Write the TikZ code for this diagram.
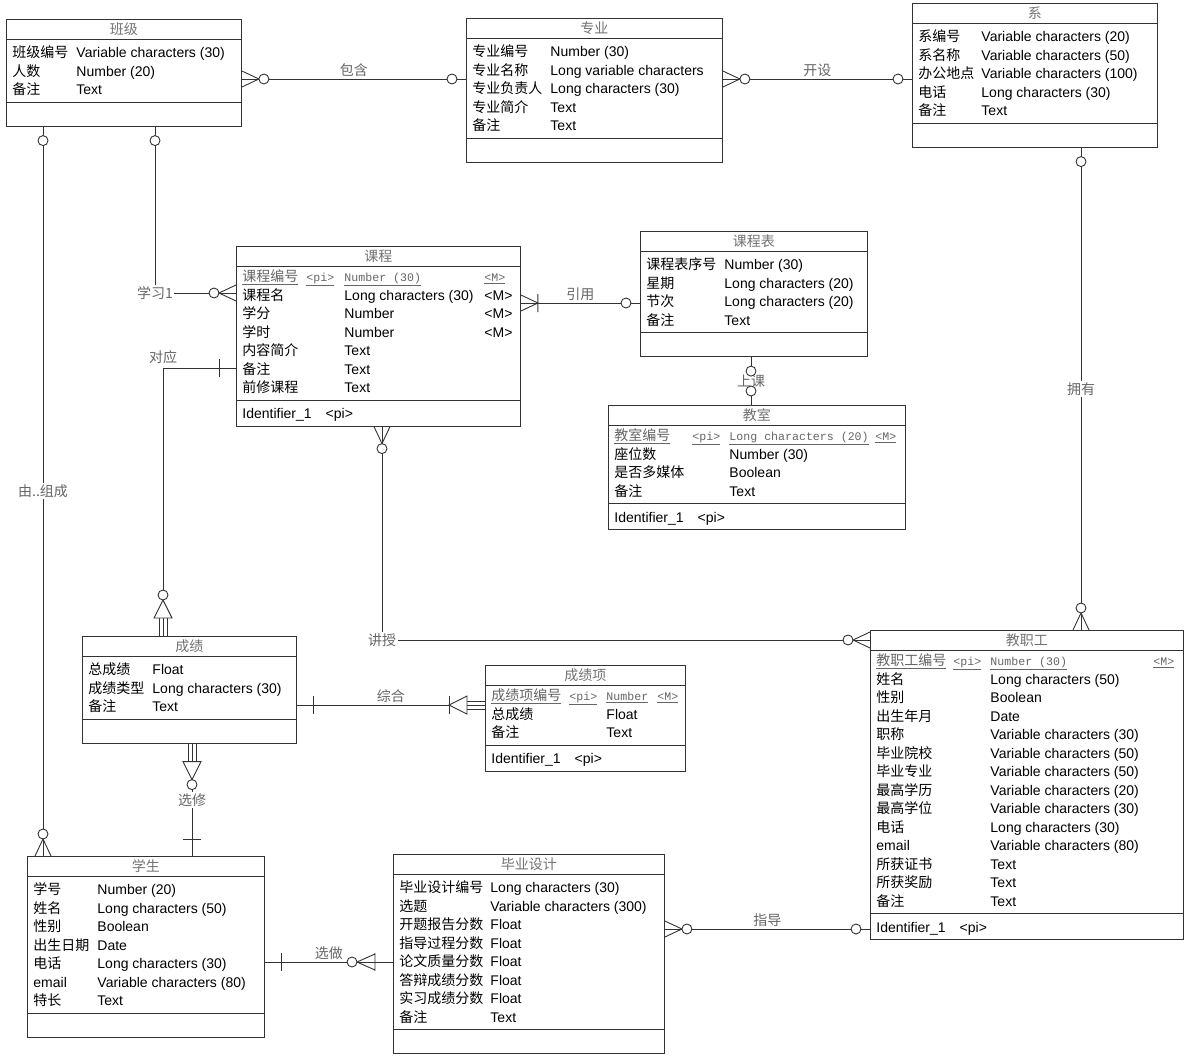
\documentclass[tikz,border=0pt]{standalone}
\usepackage{fontspec}
\setmainfont{Noto Sans CJK SC}
\newfontfamily\latf{Liberation Sans}
\newfontfamily\monof{Liberation Mono}
\usepackage{array}
\usetikzlibrary{shapes.multipart}

\newcolumntype{N}[1]{@{}w{l}{#1}}
\newcolumntype{T}[1]{@{}>{\latf}w{l}{#1}}
\newcommand\ttl[1]{\raisebox{0pt}[14.7pt][4.3pt]{\color{black!55}#1}}
\newcommand\attrs[3][5pt]{\raisebox{0pt}[\dimexpr\height+#1\relax][\dimexpr\depth+1.5pt\relax]{\begin{tabular}{#2}#3\end{tabular}}}
\newcommand\blankpart{\rule{0pt}{23pt}}
\newcommand\idpart{\raisebox{0pt}[18pt][7pt]{\latf Identifier\_1\hspace{14pt}<pi>}}
\newcommand\pkn[1]{\raisebox{0pt}[\height][0pt]{\color{black!60}\underline{#1}}}
\newcommand\pkm[1]{{\monof\fontsize{11.6}{18.5}\selectfont\raisebox{0pt}[\height][0pt]{\color{black!60}\underline{#1}}}}
\newcommand\pkid[2]{\makebox[#1][l]{\pkn{#2}}\pkm{<pi>}}

\tikzset{
  ent/.style={rectangle split, rectangle split parts=3, rectangle split part align={center,left,left},
    draw=black!80, line width=0.9pt, inner xsep=6pt, inner ysep=0pt, anchor=north west,
    fill=white, font=\fontsize{14}{18.5}\selectfont},
  conn/.style={draw=black!80, line width=0.9pt},
  lbl/.style={font=\fontsize{14}{16}\selectfont, text=black!60, inner sep=1.5pt},
  pics/crowO/.style={code={\draw[conn] (0,8) -- (17,0) -- (0,-8); \draw[conn, fill=white] (22,0) circle[radius=5pt];}},
  pics/crowB/.style={code={\draw[conn] (0,8) -- (17,0) -- (0,-8) (17,-9) -- (17,9);}},
  pics/ringO/.style={code={\draw[conn, fill=white] (14,0) circle[radius=5pt];}},
  pics/barI/.style={code={\draw[conn] (17,-9) -- (17,9);}},
  pics/depO/.style={code={\draw[conn] (0,-4) -- (18,-4) (0,0) -- (18,0) (0,4) -- (18,4);
    \draw[conn, fill=white] (18,-9) -- (18,9) -- (36,0) -- cycle;
    \draw[conn, fill=white] (41,0) circle[radius=5pt];}},
  pics/depB/.style={code={\draw[conn] (0,-4) -- (18,-4) (0,0) -- (18,0) (0,4) -- (18,4);
    \draw[conn, fill=white] (18,-9) -- (18,9) -- (36,0) -- cycle;
    \draw[conn] (36,-9) -- (36,9);}},
  pics/barCrowO/.style={code={\draw[conn] (18,-9) -- (18,9) (18,8) -- (36,0) -- (18,-8);
    \draw[conn, fill=white] (41,0) circle[radius=5pt];}},
}

\begin{document}
\begin{tikzpicture}[x=1pt, y=-1pt]
\fill[white] (0,0) rectangle (1189,1057);
\useasboundingbox (0,0) rectangle (1189,1057);

% entities
\node[ent] (bj) at (6,19) {\ttl{班级}
  \nodepart{two}\attrs{N{64pt}T{159pt}@{}}{班级编号 & Variable characters (30)\\ 人数 & Number (20)\\ 备注 & Text}
  \nodepart{three}\blankpart};
\node[ent] (zy) at (466,18) {\ttl{专业}
  \nodepart{two}\attrs{N{78pt}T{166pt}@{}}{专业编号 & Number (30)\\ 专业名称 & Long variable characters\\ 专业负责人 & Long characters (30)\\ 专业简介 & Text\\ 备注 & Text}
  \nodepart{three}\blankpart};
\node[ent] (xi) at (912,3) {\ttl{系}
  \nodepart{two}\attrs{N{63pt}T{170pt}@{}}{系编号 & Variable characters (20)\\ 系名称 & Variable characters (50)\\ 办公地点 & Variable characters (100)\\ 电话 & Long characters (30)\\ 备注 & Text}
  \nodepart{three}\blankpart};
\node[ent] (kc) at (236,246) {\ttl{课程}
  \nodepart{two}\attrs[2pt]{N{102pt}T{140pt}T{30pt}@{}}{\pkid{64pt}{课程编号} & \pkm{Number (30)} & \pkm{<M>}\\
    课程名 & Long characters (30) & <M>\\ 学分 & Number & <M>\\ 学时 & Number & <M>\\
    内容简介 & Text & \\ 备注 & Text & \\ 前修课程 & Text & }
  \nodepart{three}\idpart};
\node[ent] (kb) at (640,231) {\ttl{课程表}
  \nodepart{two}\attrs{N{78pt}T{137pt}@{}}{课程表序号 & Number (30)\\ 星期 & Long characters (20)\\ 节次 & Long characters (20)\\ 备注 & Text}
  \nodepart{three}\blankpart};
\node[ent] (js) at (608,405) {\ttl{教室}
  \nodepart{two}\attrs[2pt]{N{115pt}T{146pt}T{24pt}@{}}{\pkid{78pt}{教室编号} & \pkm{Long characters (20)} & \pkm{<M>}\\
    座位数 & Number (30) & \\ 是否多媒体 & Boolean & \\ 备注 & Text & }
  \nodepart{three}\idpart};
\node[ent] (cj) at (82,636) {\ttl{成绩}
  \nodepart{two}\attrs{N{64pt}T{138pt}@{}}{总成绩 & Float\\ 成绩类型 & Long characters (30)\\ 备注 & Text}
  \nodepart{three}\blankpart};
\node[ent] (cx) at (485,665) {\ttl{成绩项}
  \nodepart{two}\attrs[2pt]{N{115pt}T{51pt}T{22pt}@{}}{\pkid{78pt}{成绩项编号} & \pkm{Number} & \pkm{<M>}\\
    总成绩 & Float & \\ 备注 & Text & }
  \nodepart{three}\idpart};
\node[ent] (jz) at (870,630) {\ttl{教职工}
  \nodepart{two}\attrs[2pt]{N{114pt}T{163pt}T{24pt}@{}}{\pkid{77pt}{教职工编号} & \pkm{Number (30)} & \pkm{<M>}\\
    姓名 & Long characters (50) & \\ 性别 & Boolean & \\ 出生年月 & Date & \\
    职称 & Variable characters (30) & \\ 毕业院校 & Variable characters (50) & \\
    毕业专业 & Variable characters (50) & \\ 最高学历 & Variable characters (20) & \\
    最高学位 & Variable characters (30) & \\ 电话 & Long characters (30) & \\
    {\latf email} & Variable characters (80) & \\ 所获证书 & Text & \\ 所获奖励 & Text & \\ 备注 & Text & }
  \nodepart{three}\idpart};
\node[ent] (xs) at (27,856) {\ttl{学生}
  \nodepart{two}\attrs{N{64pt}T{161pt}@{}}{学号 & Number (20)\\ 姓名 & Long characters (50)\\ 性别 & Boolean\\ 出生日期 & Date\\
    电话 & Long characters (30)\\ {\latf email} & Variable characters (80)\\ 特长 & Text}
  \nodepart{three}\blankpart};
\node[ent] (bs) at (393,854) {\ttl{毕业设计}
  \nodepart{two}\attrs{N{91pt}T{168pt}@{}}{毕业设计编号 & Long characters (30)\\ 选题 & Variable characters (300)\\ 开题报告分数 & Float\\
    指导过程分数 & Float\\ 论文质量分数 & Float\\ 答辩成绩分数 & Float\\ 实习成绩分数 & Float\\ 备注 & Text}
  \nodepart{three}\blankpart};

% relationships
\draw[conn] (bj.east |- 0,79) -- node[lbl, above] (lbh) {包含} (zy.west |- 0,79);
\draw[conn] (zy.east |- 0,79) -- node[lbl, above] (lks) {开设} (xi.west |- 0,79);
\draw[conn] (1081,0 |- xi.south) -- node[lbl, fill=white] (lyy) {拥有} (1081,0 |- jz.north);
\draw[conn] (155,0 |- bj.south) |- node[lbl, fill=white] (lxx) {学习1} (kc.west |- 0,293);
\draw[conn] (43,0 |- bj.south) -- node[lbl, fill=white] (lzc) {由..组成} (43,0 |- xs.north);
\draw[conn] (kc.west |- 0,368) -| node[lbl, above=2pt] (ldy) {对应} (163,0 |- cj.north);
\draw[conn] (kc.east |- 0,303) -- node[lbl, above] (lyyo) {引用} (kb.west |- 0,303);
\draw[conn] (751,0 |- kb.south) -- node[lbl, fill=white] (lsk) {上课} (751,0 |- js.north);
\draw[conn] (382,0 |- kc.south) |- node[lbl, fill=white] (ljs) {讲授} (jz.west |- 0,640);
\draw[conn] (cj.east |- 0,705) -- node[lbl, above] (lzh) {综合} (cx.west |- 0,705);
\draw[conn] (192,0 |- cj.south) -- node[lbl, fill=white] (lxiu) {选修} (192,0 |- xs.north);
\draw[conn] (xs.east |- 0,962) -- node[lbl, above] (lxz) {选做} (bs.west |- 0,962);
\draw[conn] (bs.east |- 0,929) -- node[lbl, above] (lzd) {指导} (jz.west |- 0,929);

% end marks
\pic at (bj.east |- 0,79) {crowO};
\pic[rotate=180] at (zy.west |- 0,79) {ringO};
\pic at (zy.east |- 0,79) {crowO};
\pic[rotate=180] at (xi.west |- 0,79) {ringO};
\pic[rotate=-90] at (1081,0 |- xi.south) {ringO};
\pic[rotate=90] at (1081,0 |- jz.north) {crowO};
\pic[rotate=-90] at (155,0 |- bj.south) {ringO};
\pic[rotate=180] at (kc.west |- 0,293) {crowO};
\pic[rotate=-90] at (43,0 |- bj.south) {ringO};
\pic[rotate=90] at (43,0 |- xs.north) {crowO};
\pic[rotate=180] at (kc.west |- 0,368) {barI};
\pic[rotate=90] at (163,0 |- cj.north) {depO};
\pic at (kc.east |- 0,303) {crowB};
\pic[rotate=180] at (kb.west |- 0,303) {ringO};
\pic[rotate=-90] at (751,0 |- kb.south) {ringO};
\pic[rotate=90] at (751,0 |- js.north) {ringO};
\pic[rotate=-90] at (382,0 |- kc.south) {crowO};
\pic[rotate=180] at (jz.west |- 0,640) {crowO};
\pic at (cj.east |- 0,705) {barI};
\pic[rotate=180] at (cx.west |- 0,705) {depB};
\pic[rotate=-90] at (192,0 |- cj.south) {depO};
\pic[rotate=90] at (192,0 |- xs.north) {barI};
\pic at (xs.east |- 0,962) {barI};
\pic[rotate=180] at (bs.west |- 0,962) {barCrowO};
\pic at (bs.east |- 0,929) {crowO};
\pic[rotate=180] at (jz.west |- 0,929) {ringO};
\end{tikzpicture}
\end{document}
